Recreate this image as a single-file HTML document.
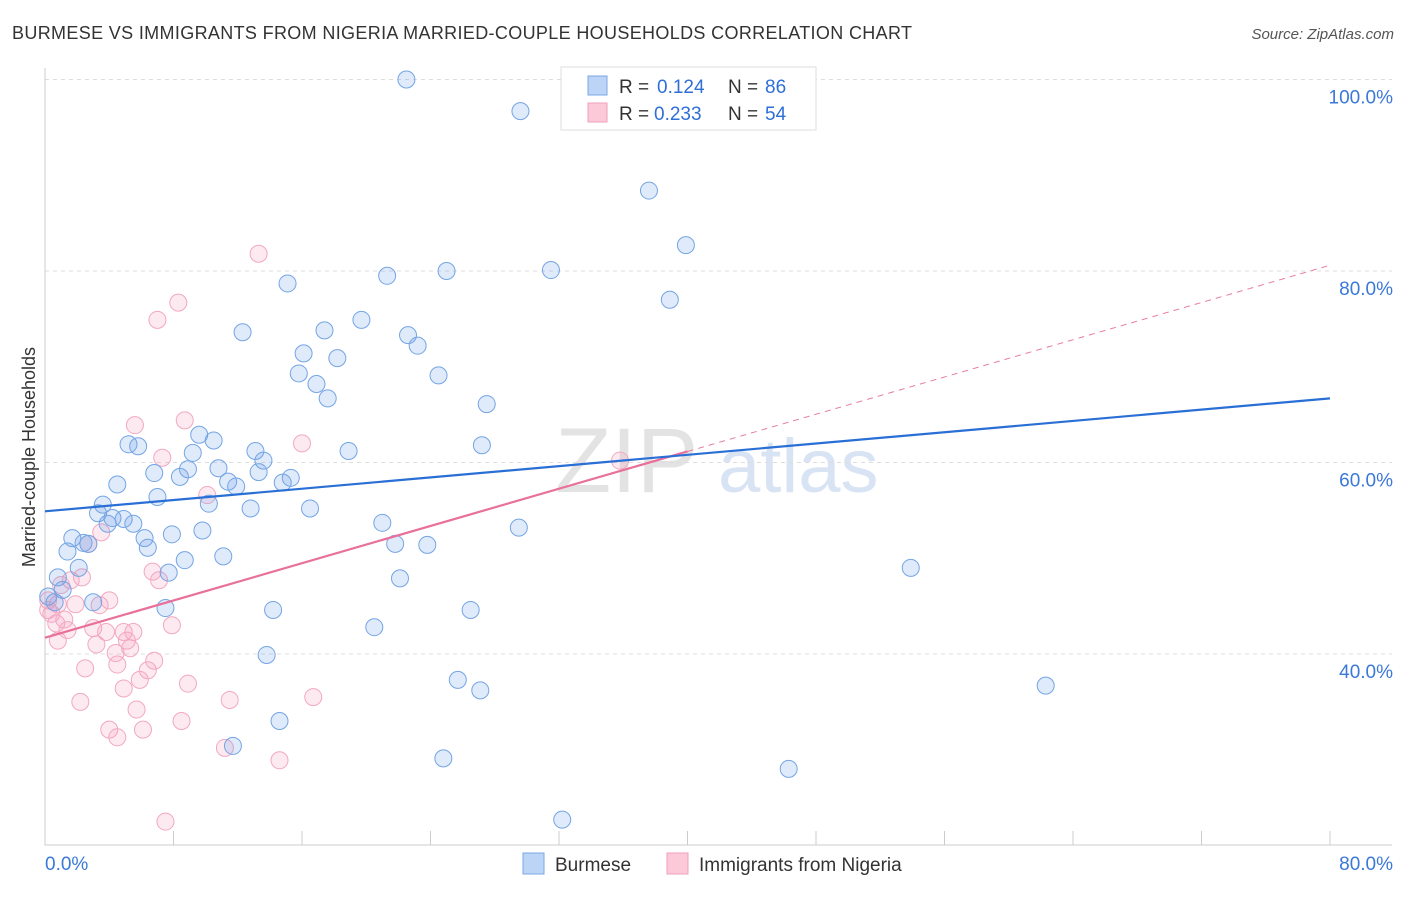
<!DOCTYPE html>
<html><head><meta charset="utf-8"><style>
body{margin:0;background:#fff;font-family:"Liberation Sans",sans-serif;}
svg text{font-family:"Liberation Sans",sans-serif;}
</style></head><body>
<svg id="chart" width="1406" height="892" xmlns="http://www.w3.org/2000/svg">
<text x="12" y="39" font-size="18" fill="#333" textLength="900">BURMESE VS IMMIGRANTS FROM NIGERIA MARRIED-COUPLE HOUSEHOLDS CORRELATION CHART</text>
<text x="1394" y="39" font-size="15" fill="#555" text-anchor="end" font-style="italic">Source: ZipAtlas.com</text>
<g>
<text x="555" y="492" font-size="92" fill="#ddd" font-family="Liberation Serif" opacity="0.8">ZIP</text>
<text x="718" y="492" font-size="76" fill="#c8d8f0" opacity="0.7">atlas</text>
</g>
<g id="grid"></g>
<g id="axes"></g>
<g id="marks"></g>
<text transform="translate(35,457) rotate(-90)" font-size="18" fill="#333" text-anchor="middle">Married-couple Households</text>
<g>
<rect x="561" y="67" width="255" height="63" fill="#fff" stroke="#ddd"/>
<rect x="588" y="76" width="19" height="19" fill="#bcd4f5" stroke="#7aa7e6"/>
<rect x="588" y="103" width="19" height="19" fill="#fbc9d8" stroke="#f0a0bb"/>
<text x="619" y="93" font-size="19" fill="#333">R =</text>
<text x="657" y="93" font-size="19" fill="#2f6fd6">0.124</text>
<text x="728" y="93" font-size="19" fill="#333">N =</text>
<text x="765" y="93" font-size="19" fill="#2f6fd6">86</text>
<text x="619" y="120" font-size="19" fill="#333">R =</text>
<text x="654" y="120" font-size="19" fill="#2f6fd6">0.233</text>
<text x="728" y="120" font-size="19" fill="#333">N =</text>
<text x="765" y="120" font-size="19" fill="#2f6fd6">54</text>
</g>
<g>
<rect x="523" y="853" width="21" height="21" fill="#bcd4f5" stroke="#7aa7e6"/>
<text x="555" y="871" font-size="19" fill="#333">Burmese</text>
<rect x="667" y="853" width="21" height="21" fill="#fbc9d8" stroke="#f0a0bb"/>
<text x="699" y="871" font-size="19" fill="#333">Immigrants from Nigeria</text>
</g>
</svg>
<script>
const yTicks=[40,60,80,100];
const yTickLabels=["40.0%","60.0%","80.0%","100.0%"];
const xTickLabels=["0.0%","80.0%"];
const burmeseX=[22.5,29.6,37.6,39.9,25.0,31.5,21.3,15.1,38.9,12.3,17.4,19.7,22.6,23.2,16.1,18.2,15.8,16.9,24.5,17.6,27.5,27.2,18.9,5.2,5.8,9.6,10.5,13.1,13.6,9.2,8.9,6.8,10.8,8.4,11.4,11.9,13.3,15.3,14.8,4.5,7.0,3.6,10.2,12.8,16.5,3.3,4.2,4.9,5.5,3.9,21.0,29.5,1.7,6.2,7.9,9.8,2.4,2.7,6.4,1.4,11.1,8.7,21.8,23.8,7.7,2.1,0.8,1.1,0.2,0.6,3.0,7.5,14.2,26.5,22.1,20.5,53.9,13.8,25.7,27.1,62.3,14.6,11.7,24.8,46.3,32.2];
const burmeseY=[100.0,96.7,88.4,82.7,80.0,80.1,79.5,78.7,77.0,73.6,73.8,74.9,73.3,72.2,71.4,70.9,69.3,68.2,69.1,66.7,66.1,61.8,61.2,61.9,61.7,62.9,62.3,61.2,60.2,61.0,59.3,58.9,59.4,58.5,58.0,57.5,59.0,58.4,57.9,57.7,56.4,55.6,55.7,55.2,55.2,54.7,54.2,54.1,53.6,53.6,53.7,53.2,52.1,52.1,52.5,52.9,51.6,51.5,51.1,50.7,50.2,49.8,51.5,51.4,48.5,49.0,48.0,46.7,46.0,45.4,45.4,44.8,44.6,44.6,47.9,42.8,49.0,39.9,37.3,36.2,36.7,33.0,30.4,29.1,28.0,22.7];
const nigeriaX=[13.3,8.3,7.0,5.6,8.7,16.0,7.3,10.1,35.8,3.5,2.7,2.3,6.7,7.1,1.6,1.0,0.2,0.8,1.9,0.4,1.2,0.7,1.4,3.0,3.8,4.9,5.5,7.9,3.2,5.1,5.3,0.8,4.4,6.8,6.4,4.5,2.5,5.9,8.9,4.9,2.2,11.5,16.7,5.7,8.5,4.0,6.1,4.5,11.2,14.6,7.5,0.2,4.0,3.4];
const nigeriaY=[81.8,76.7,74.9,63.9,64.4,62.0,60.5,56.6,60.2,52.7,51.5,48.0,48.6,47.7,47.7,47.2,45.6,45.2,45.2,44.2,43.6,43.2,42.5,42.7,42.3,42.3,42.3,43.0,41.0,41.4,40.6,41.4,40.1,39.3,38.3,38.9,38.5,37.3,36.9,36.4,35.0,35.2,35.5,34.2,33.0,32.1,32.1,31.3,30.2,28.9,22.5,44.6,45.6,45.1];
const burmeseTrend=[54.9,66.7];
const nigeriaTrend=[41.7,80.6];
const NS="http://www.w3.org/2000/svg";
const X0=45,X1=1330,YB=654,YT=79.5;
function sx(v){return X0+(v/80)*(X1-X0);}
function sy(v){return YB-(v-40)*(YB-YT)/60;}
function mk(tag,attrs,parent){const e=document.createElementNS(NS,tag);for(const k in attrs)e.setAttribute(k,attrs[k]);parent.appendChild(e);return e;}
const grid=document.getElementById('grid'),axes=document.getElementById('axes'),marks=document.getElementById('marks');
yTicks.forEach((t,i)=>{
 const l=mk('line',{x1:X0,x2:1392,y1:sy(t),y2:sy(t),stroke:'#ddd','stroke-dasharray':'4,4'},grid);
 
 
 const tx=mk('text',{x:1393,y:sy(t)+24,'font-size':19,fill:'#3b78d8','text-anchor':'end'},axes);
 tx.textContent=yTickLabels[i];
 
 
});
const ax=mk('path',{d:`M${X0},68V845H1392`,stroke:'#ccc',fill:'none'},axes);


for(let v=0;v<=80;v+=8){
 const t=mk('line',{x1:sx(v),x2:sx(v),y1:845,y2:831,stroke:'#ccc'},axes);
 
 
}
[[0,'start',45],[80,'end',1393]].forEach((a,i)=>{
 const tx=mk('text',{x:a[2],y:870,'font-size':19,fill:'#3b78d8','text-anchor':a[1]},axes);
 tx.textContent=xTickLabels[i];
 
 
});
function dots(xs,ys,fill,stroke,name){
 xs.forEach((x,i)=>{
  const c=mk('circle',{cx:sx(x),cy:sy(ys[i]),r:8.5,fill:fill,stroke:stroke,'stroke-width':1},marks);
  
  
 });
}
dots(nigeriaX,nigeriaY,'rgba(244,160,190,0.22)','#f2a8c0','nigeria-point');
dots(burmeseX,burmeseY,'rgba(110,160,230,0.22)','#74a5e4','burmese-point');
const pm=(nigeriaTrend[1]-nigeriaTrend[0])/80;
const pd=mk('line',{x1:sx(40),y1:sy(nigeriaTrend[0]+pm*40),x2:sx(80),y2:sy(nigeriaTrend[1]),stroke:'#e87aa0','stroke-width':1,'stroke-dasharray':'6,5'},marks);


const ps=mk('line',{x1:sx(0),y1:sy(nigeriaTrend[0]),x2:sx(40),y2:sy(nigeriaTrend[0]+pm*40),stroke:'#e8709a','stroke-width':2.2},marks);


const bl=mk('line',{x1:sx(0),y1:sy(burmeseTrend[0]),x2:sx(80),y2:sy(burmeseTrend[1]),stroke:'#2a6fd6','stroke-width':2.2},marks);


</script>
</body></html>
